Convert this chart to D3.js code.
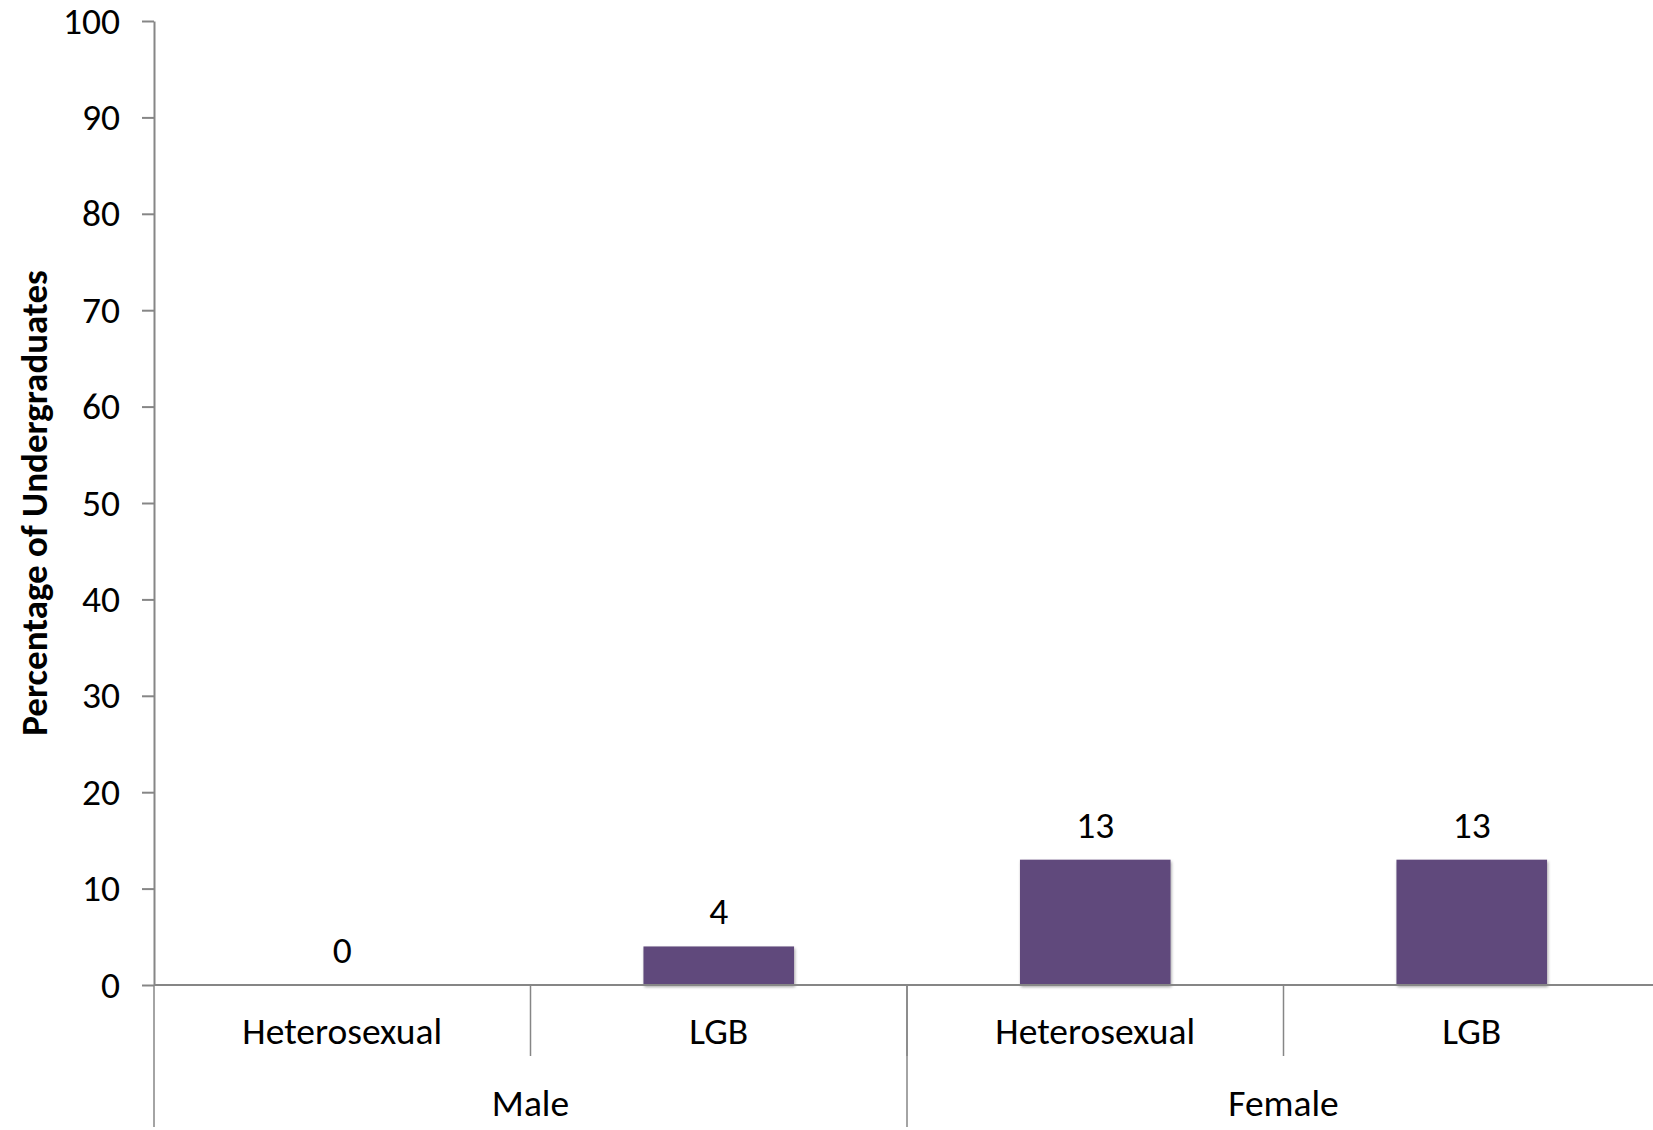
<!DOCTYPE html>
<html>
<head>
<meta charset="utf-8">
<script src="https://cdn.jsdelivr.net/npm/d3@7"></script>
<style>
  body { margin: 0; background: #fff; }
  svg { display: block; }
  text { font-family: Carlito, Calibri, Lato, sans-serif; fill: #000; }
</style>
</head>
<body>
<div id="chart"></div>
<script>
// data
var genders = ["Male", "Female"];
var orientations = ["Heterosexual", "LGB"];
var values = [0, 4, 13, 13];   // Male Het, Male LGB, Female Het, Female LGB
var yTicks = [0, 10, 20, 30, 40, 50, 60, 70, 80, 90, 100];
var yTitle = "Percentage of Undergraduates";

var W = 1653, H = 1130;
var margin = { top: 21, left: 154 };
var baseY = 985;        // zero line
var plotRight = 1660;   // last band runs a bit past the edge, as in the source
var axisColor = "#868686";
var barColor = "#604a7b";
var fs = 37.5;

var rows = [];
genders.forEach(function (g, gi) {
      orientations.forEach(function (o, oi) {
            rows.push({ key: g + "|" + o, gender: g, orient: o, value: values[gi * orientations.length + oi] });
      });
});

var svg = d3.select("#chart").append("svg")
      .attr("width", W)
      .attr("height", H);

var defs = svg.append("defs");
var f = defs.append("filter").attr("id", "shadow")
      .attr("x", "-10%").attr("y", "-10%").attr("width", "130%").attr("height", "130%");
f.append("feDropShadow")
      .attr("dx", 1).attr("dy", 2).attr("stdDeviation", 1.5)
      .attr("flood-color", "#000").attr("flood-opacity", 0.35);

var y = d3.scaleLinear()
      .domain([0, 100])
      .range([baseY, margin.top]);

var x = d3.scaleBand()
      .domain(rows.map(function (d) { return d.key; }))
      .range([margin.left, plotRight])
      .paddingInner(0.6)
      .paddingOuter(0.3);

var xg = d3.scaleBand()
      .domain(genders)
      .range([margin.left, plotRight]);

// y axis
var yAxis = svg.append("g")
      .attr("transform", "translate(" + margin.left + ",0)")
      .call(d3.axisLeft(y).tickValues(yTicks).tickSize(12).tickSizeOuter(0).tickPadding(22));
yAxis.select(".domain").attr("stroke", axisColor).attr("stroke-width", 2);
yAxis.selectAll(".tick line").attr("stroke", axisColor).attr("stroke-width", 2);
yAxis.selectAll(".tick text")
      .style("font-family", "Carlito, Calibri, Lato, sans-serif")
      .attr("font-size", fs)
      .attr("fill", "#000");

// y title
svg.append("text")
      .attr("transform", "translate(47," + y(50) + ") rotate(-90)")
      .attr("text-anchor", "middle")
      .attr("font-size", 37)
      .attr("font-weight", "bold")
      .text(yTitle);

// bars
var step = x.step();
svg.append("g").selectAll("rect")
      .data(rows)
      .join("rect")
      .attr("x", function (d) { return x(d.key); })
      .attr("y", function (d) { return y(d.value); })
      .attr("width", x.bandwidth())
      .attr("height", function (d) { return y(0) - y(d.value); })
      .attr("fill", barColor)
      .attr("filter", "url(#shadow)");

// value labels
svg.append("g").selectAll("text")
      .data(rows)
      .join("text")
      .attr("x", function (d) { return x(d.key) + x.bandwidth() / 2; })
      .attr("y", function (d) { return y(d.value) - 22; })
      .attr("text-anchor", "middle")
      .attr("font-size", fs)
      .text(function (d) { return d.value; });

// x axis line
svg.append("line")
      .attr("x1", margin.left).attr("x2", W)
      .attr("y1", y(0)).attr("y2", y(0))
      .attr("stroke", axisColor).attr("stroke-width", 2);

// category separators (short)
var catEdges = rows.slice(1).map(function (d) { return x(d.key) - step * 0.3; });
svg.append("g").selectAll("line")
      .data(catEdges)
      .join("line")
      .attr("x1", function (d) { return d; }).attr("x2", function (d) { return d; })
      .attr("y1", y(0)).attr("y2", 1056)
      .attr("stroke", axisColor).attr("stroke-width", 1.5);

// group separators (long)
svg.append("g").selectAll("line")
      .data(genders)
      .join("line")
      .attr("x1", function (d) { return xg(d); }).attr("x2", function (d) { return xg(d); })
      .attr("y1", y(0)).attr("y2", 1127)
      .attr("stroke", axisColor).attr("stroke-width", 1.5);

// category labels
svg.append("g").selectAll("text")
      .data(rows)
      .join("text")
      .attr("x", function (d) { return x(d.key) + x.bandwidth() / 2; })
      .attr("y", 1044)
      .attr("text-anchor", "middle")
      .attr("font-size", fs)
      .text(function (d) { return d.orient; });

// group labels
svg.append("g").selectAll("text")
      .data(genders)
      .join("text")
      .attr("x", function (d) { return xg(d) + xg.bandwidth() / 2; })
      .attr("y", 1116)
      .attr("text-anchor", "middle")
      .attr("font-size", fs)
      .text(function (d) { return d; });
</script>
</body>
</html>
